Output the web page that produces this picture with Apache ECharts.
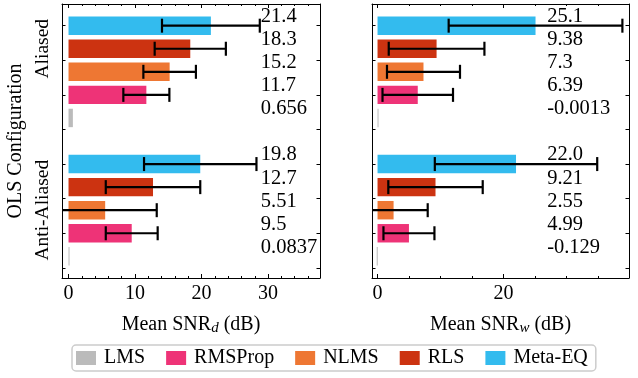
<!DOCTYPE html>
<html>
<head>
<meta charset="utf-8">
<script src="https://cdn.jsdelivr.net/npm/echarts@6/dist/echarts.min.js"></script>
<style>
  html, body { margin: 0; padding: 0; background: #fff; }
  #chart { width: 638px; height: 378px; }
</style>
</head>
<body>
<div id="chart"></div>
<script>
// methods, bottom to top inside each group
var methods = ["LMS", "RMSProp", "NLMS", "RLS", "Meta-EQ"];
var colors = ["#BBBBBB", "#EE3377", "#EE7733", "#CC3311", "#33BBEE"];
var configs = ["Aliased", "Anti-Aliased"];

// slot of each method inside a group (0 = top), start slot of each group
var methodSlot = [4, 3, 2, 1, 0];
var groupStart = [0, 6];
var configLabelPos = [1, 8];
var yTickPos = [0, 1.5, 3, 4.5, 6, 7.5, 9, 10.5];

// Mean SNR_d (dB)
var snrdAliased = [0.656, 11.7, 15.2, 18.3, 21.4];
var snrdAnti = [0.0837, 9.5, 5.51, 12.7, 19.8];
var snrdAliasedStd = [0, 3.46, 3.95, 5.35, 7.35];
var snrdAntiStd = [0, 3.9, 7.75, 7.1, 8.45];
var snrdAliasedText = ["0.656", "11.7", "15.2", "18.3", "21.4"];
var snrdAntiText = ["0.0837", "9.5", "5.51", "12.7", "19.8"];

// Mean SNR_w (dB)
var snrwAliased = [-0.0013, 6.39, 7.3, 9.38, 25.1];
var snrwAnti = [-0.129, 4.99, 2.55, 9.21, 22.0];
var snrwAliasedStd = [0, 5.6, 5.8, 7.6, 13.8];
var snrwAntiStd = [0, 4.05, 5.42, 7.5, 12.9];
var snrwAliasedText = ["-0.0013", "6.39", "7.3", "9.38", "25.1"];
var snrwAntiText = ["-0.129", "4.99", "2.55", "9.21", "22.0"];

// x ticks
var ticksDMajor = [0, 10, 20, 30];
var ticksDMinor = [2, 4, 6, 8, 12, 14, 16, 18, 22, 24, 26, 28, 32, 34, 36];
var ticksWMajor = [0, 20, 40];
var ticksWMinor = [5, 10, 15, 25, 30, 35];

var FONT = "'Liberation Serif', 'DejaVu Serif', serif";
var BAR_H = 0.8;

function slotOf(ci, m) {
  return groupStart[ci] + methodSlot[m];
}

function xAxesFor(grid, min, max, major, minor, sub) {
  var base = {
    type: "value", gridIndex: grid, min: min, max: max,
    splitLine: { show: false },
    axisLine: { onZero: false, lineStyle: { color: "#000", width: 1 } }
  };
  return [
    Object.assign({}, base, {
      position: "bottom",
      axisTick: { inside: true, length: 4, customValues: major, lineStyle: { color: "#000" } },
      axisLabel: { customValues: major, margin: 6, fontSize: 20, fontFamily: FONT, color: "#000" },
      name: "{m|Mean SNR}{s|" + sub + "}{m| (dB)}",
      nameLocation: "middle",
      nameGap: 35,
      nameTextStyle: {
        fontFamily: FONT, color: "#000",
        rich: {
          m: { fontSize: 20, fontFamily: FONT, color: "#000", lineHeight: 23 },
          s: { fontSize: 15, fontFamily: FONT, color: "#000", fontStyle: "italic", lineHeight: 10, verticalAlign: "bottom" }
        }
      }
    }),
    Object.assign({}, base, {
      position: "bottom",
      axisLine: { show: false, onZero: false },
      axisTick: { inside: true, length: 2, customValues: minor, lineStyle: { color: "#000" } },
      axisLabel: { show: false }
    }),
    Object.assign({}, base, {
      position: "top",
      axisTick: { inside: true, length: 4, customValues: major, lineStyle: { color: "#000" } },
      axisLabel: { show: false }
    }),
    Object.assign({}, base, {
      position: "top",
      axisLine: { show: false, onZero: false },
      axisTick: { inside: true, length: 2, customValues: minor, lineStyle: { color: "#000" } },
      axisLabel: { show: false }
    })
  ];
}

function yAxesFor(grid, withLabels) {
  var base = {
    type: "value", gridIndex: grid, inverse: true, min: -0.94, max: 10.94,
    splitLine: { show: false },
    axisLine: { onZero: false, lineStyle: { color: "#000", width: 1 } },
    axisTick: { inside: true, length: 3.5, customValues: yTickPos, lineStyle: { color: "#000" } },
    axisLabel: { show: false }
  };
  var left = Object.assign({}, base, { position: "left" });
  if (withLabels) {
    left.axisLabel = {
      show: true, customValues: configLabelPos, rotate: 90, margin: 9,
      fontSize: 19.5, fontFamily: FONT, color: "#000",
      formatter: function (v) { return configs[configLabelPos.indexOf(v)]; }
    };
    left.name = "OLS Configuration";
    left.nameLocation = "middle";
    left.nameGap = 36;
    left.nameTextStyle = { fontSize: 20, fontFamily: FONT, color: "#000" };
  }
  var right = Object.assign({}, base, { position: "right" });
  return [left, right];
}

function barSeries(m, vals, xi, yi) {
  return {
    type: "custom",
    name: methods[m],
    xAxisIndex: xi, yAxisIndex: yi,
    itemStyle: { color: colors[m] },
    encode: { x: 0, y: 1 },
    data: configs.map(function (c, ci) { return [vals[ci][m], slotOf(ci, m)]; }),
    renderItem: function (params, api) {
      var p0 = api.coord([0, api.value(1)]);
      var p1 = api.coord([api.value(0), api.value(1)]);
      var h = api.size([0, BAR_H])[1];
      var w = Math.max(Math.abs(p1[0] - p0[0]), 1);
      return {
        type: "rect",
        shape: { x: Math.min(p0[0], p1[0]), y: p0[1] - h / 2, width: w, height: h },
        style: { fill: colors[m] }
      };
    }
  };
}

function errSeries(vals, stds, xi, yi) {
  var data = [];
  configs.forEach(function (c, ci) {
    methods.forEach(function (name, m) {
      if (stds[ci][m] > 0) data.push([vals[ci][m], slotOf(ci, m), stds[ci][m]]);
    });
  });
  return {
    type: "custom",
    name: "err",
    xAxisIndex: xi, yAxisIndex: yi,
    clip: true,
    z: 5,
    encode: { x: 0, y: 1 },
    data: data,
    renderItem: function (params, api) {
      var cs = params.coordSys;
      var y = api.value(1);
      var a = api.coord([api.value(0) - api.value(2), y]);
      var b = api.coord([api.value(0) + api.value(2), y]);
      var x1 = Math.max(a[0], cs.x), x2 = Math.min(b[0], cs.x + cs.width);
      var st = { stroke: "#000", lineWidth: 2.2 };
      var kids = [{ type: "line", shape: { x1: x1, y1: a[1], x2: x2, y2: a[1] }, style: st }];
      if (a[0] >= cs.x) kids.push({ type: "line", shape: { x1: a[0], y1: a[1] - 7, x2: a[0], y2: a[1] + 7 }, style: st });
      if (b[0] <= cs.x + cs.width) kids.push({ type: "line", shape: { x1: b[0], y1: b[1] - 7, x2: b[0], y2: b[1] + 7 }, style: st });
      return { type: "group", children: kids };
    }
  };
}

function labelSeries(texts, labelX, xi, yi) {
  var data = [], strs = [];
  configs.forEach(function (c, ci) {
    methods.forEach(function (name, m) {
      data.push([labelX, slotOf(ci, m)]);
      strs.push(texts[ci][m]);
    });
  });
  return {
    type: "custom",
    name: "labels",
    xAxisIndex: xi, yAxisIndex: yi,
    z: 6,
    encode: { x: 0, y: 1 },
    data: data,
    renderItem: function (params, api) {
      var p = api.coord([api.value(0), api.value(1)]);
      return {
        type: "text",
        x: p[0], y: p[1] - 9,
        style: {
          text: strs[params.dataIndex], fill: "#000",
          fontSize: 20.5, fontFamily: FONT,
          align: "left", verticalAlign: "middle"
        }
      };
    }
  };
}

var chart = echarts.init(document.getElementById("chart"));

var series = [];
methods.forEach(function (name, m) {
  series.push(barSeries(m, [snrdAliased, snrdAnti], 0, 0));
  series.push(barSeries(m, [snrwAliased, snrwAnti], 4, 2));
});
series.push(errSeries([snrdAliased, snrdAnti], [snrdAliasedStd, snrdAntiStd], 0, 0));
series.push(errSeries([snrwAliased, snrwAnti], [snrwAliasedStd, snrwAntiStd], 4, 2));
series.push(labelSeries([snrdAliasedText, snrdAntiText], 28.9, 0, 0));
series.push(labelSeries([snrwAliasedText, snrwAntiText], 26.95, 4, 2));

var option = {
  animation: false,
  backgroundColor: "#fff",
  grid: [
    { left: 62, top: 4, width: 258, height: 274 },
    { left: 372, top: 4, width: 257, height: 274 }
  ],
  xAxis: xAxesFor(0, -0.98, 37.8, ticksDMajor, ticksDMinor, "d")
    .concat(xAxesFor(1, -0.88, 39.95, ticksWMajor, ticksWMinor, "w")),
  yAxis: yAxesFor(0, true).concat(yAxesFor(1, false)),
  legend: {
    data: methods,
    left: 72, top: 345,
    icon: "rect",
    itemWidth: 20, itemHeight: 14,
    itemGap: 21,
    padding: [3, 8, 3, 4],
    borderColor: "#cccccc", borderWidth: 1.5, borderRadius: 4,
    backgroundColor: "#fff",
    textStyle: { fontSize: 20, fontFamily: FONT, color: "#000", padding: [0, 0, 0, 3] }
  },
  series: series
};

chart.setOption(option);
</script>
</body>
</html>
